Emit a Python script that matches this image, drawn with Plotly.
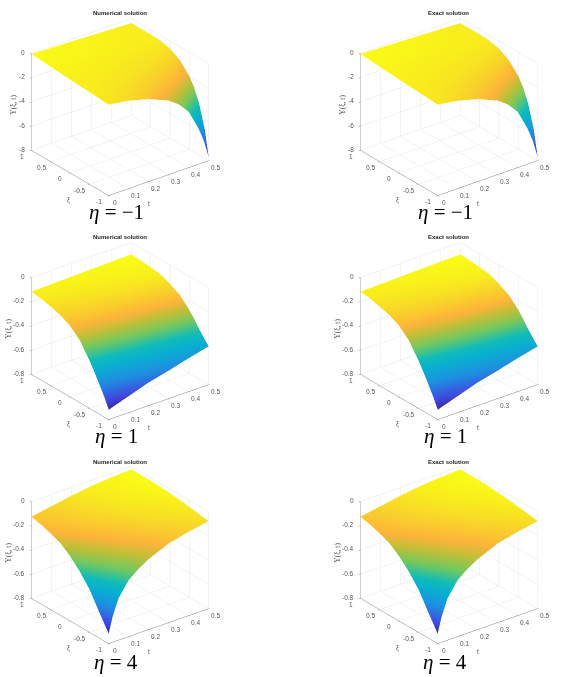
import plotly.graph_objects as go

xi_eta_m1 = [-1, -0.9, -0.75, -0.625, -0.5, -0.25, 0, 0.25, 0.5, 0.75, 1]
xi_eta_1 = [-1, -0.9, -0.75, -0.625, -0.5, -0.25, 0, 0.25, 0.5, 0.75, 1]
xi_eta_4 = [-1, -0.9, -0.75, -0.5, -0.25, 0, 0.25, 0.5, 0.75, 1]

# rows follow the xi list of each panel, columns its t list
t_eta_m1 = [0, 0.1, 0.2, 0.3, 0.35, 0.4, 0.45, 0.475, 0.5]
z_eta_m1 = [
    [-0.50, -0.76, -1.20, -1.90, -2.50, -3.40, -5.10, -6.20, -7.70],
    [-0.48, -0.70, -1.05, -1.60, -2.05, -2.75, -3.90, -4.60, -5.60],
    [-0.45, -0.62, -0.85, -1.25, -1.55, -1.95, -2.60, -3.10, -3.70],
    [-0.42, -0.55, -0.74, -1.02, -1.22, -1.50, -1.90, -2.20, -2.65],
    [-0.39, -0.49, -0.63, -0.82, -0.96, -1.15, -1.45, -1.67, -1.95],
    [-0.34, -0.41, -0.49, -0.58, -0.64, -0.72, -0.87, -0.96, -1.08],
    [-0.29, -0.34, -0.40, -0.45, -0.48, -0.52, -0.57, -0.595, -0.62],
    [-0.23, -0.27, -0.31, -0.35, -0.365, -0.38, -0.40, -0.41, -0.42],
    [-0.17, -0.20, -0.23, -0.27, -0.295, -0.32, -0.35, -0.365, -0.38],
    [-0.10, -0.15, -0.20, -0.25, -0.28, -0.31, -0.345, -0.36, -0.38],
    [-0.05, -0.11, -0.17, -0.24, -0.275, -0.31, -0.345, -0.36, -0.38],
]
t_eta_1 = [0, 0.1, 0.2, 0.3, 0.4, 0.5]
z_eta_1 = [
    [-0.720, -0.665, -0.610, -0.570, -0.525, -0.485],
    [-0.645, -0.599, -0.551, -0.513, -0.479, -0.445],
    [-0.550, -0.512, -0.472, -0.441, -0.413, -0.385],
    [-0.475, -0.440, -0.405, -0.378, -0.352, -0.328],
    [-0.405, -0.375, -0.344, -0.319, -0.297, -0.275],
    [-0.285, -0.265, -0.244, -0.228, -0.213, -0.198],
    [-0.212, -0.199, -0.185, -0.175, -0.165, -0.155],
    [-0.172, -0.160, -0.149, -0.139, -0.130, -0.122],
    [-0.148, -0.139, -0.130, -0.123, -0.116, -0.110],
    [-0.128, -0.122, -0.116, -0.112, -0.107, -0.103],
    [-0.118, -0.113, -0.109, -0.105, -0.101, -0.098],
]
t_eta_4 = [0, 0.02, 0.05, 0.1, 0.15, 0.2, 0.3, 0.4, 0.5]
z_eta_4 = [
    [-0.720, -0.590, -0.455, -0.335, -0.270, -0.220, -0.148, -0.109, -0.079],
    [-0.665, -0.550, -0.429, -0.319, -0.259, -0.211, -0.142, -0.104, -0.073],
    [-0.585, -0.489, -0.388, -0.294, -0.240, -0.196, -0.132, -0.096, -0.065],
    [-0.445, -0.380, -0.310, -0.241, -0.198, -0.162, -0.108, -0.079, -0.053],
    [-0.345, -0.300, -0.251, -0.200, -0.166, -0.136, -0.091, -0.066, -0.042],
    [-0.265, -0.235, -0.201, -0.164, -0.137, -0.112, -0.075, -0.054, -0.034],
    [-0.205, -0.185, -0.163, -0.134, -0.113, -0.093, -0.062, -0.044, -0.027],
    [-0.172, -0.158, -0.142, -0.119, -0.101, -0.083, -0.055, -0.039, -0.024],
    [-0.145, -0.136, -0.124, -0.106, -0.090, -0.074, -0.049, -0.035, -0.023],
    [-0.126, -0.120, -0.112, -0.097, -0.083, -0.068, -0.045, -0.032, -0.023],
]

eta_labels = ["\u03b7 = \u22121", "\u03b7 = 1", "\u03b7 = 4"]
col_titles = ["Numerical solution", "Exact solution"]
t_sets = [t_eta_m1, t_eta_1, t_eta_4]
xi_sets = [xi_eta_m1, xi_eta_1, xi_eta_4]
z_sets = [z_eta_m1, z_eta_1, z_eta_4]
z_ranges = [[-8, 0], [-0.8, 0], [-0.8, 0]]
z_ticks = [[-8, -6, -4, -2, 0], [-0.8, -0.6, -0.4, -0.2, 0], [-0.8, -0.6, -0.4, -0.2, 0]]
t_ticks = [0, 0.1, 0.2, 0.3, 0.4, 0.5]
xi_ticks = [-1, -0.5, 0, 0.5, 1]

parula = [
    [0.0, "#3b2a9a"], [0.1, "#4048e0"], [0.27, "#1f8fe0"], [0.42, "#08b0d0"],
    [0.5, "#10bcb8"], [0.62, "#72c860"], [0.72, "#c0bf38"], [0.8, "#fdb43a"],
    [0.9, "#f8d828"], [1.0, "#f9fb15"],
]

W, H = 561, 677
centers_x = [119.5, 448.5]
centers_y = [107, 331, 555]
dom_widths = [236, 224]
dom_h = 210
box = 1.204
tick_font = dict(family="Liberation Sans", size=6.5, color="#555555")
title_font = dict(family="Liberation Serif", size=7.5, color="#555555")


def scene_text(x, y, z, text, dx, dy, font=tick_font, **kw):
    return dict(x=x, y=y, z=z, text=text, showarrow=False, xshift=dx, yshift=dy, font=font, **kw)


fig = go.Figure()
for row, z in enumerate(z_sets):
    zlow, zhigh = z_ranges[row]
    labels = [scene_text(t, -1, zlow, str(t), 7, -7) for t in t_ticks]
    labels += [scene_text(0, xi, zlow, str(xi), -9, -6) for xi in xi_ticks]
    labels += [scene_text(0, 1, v, str(v), -4, 1, xanchor="right") for v in z_ticks[row]]
    labels.append(scene_text(0.25, -1, zlow, "t", -9, -25))
    labels.append(scene_text(0, 0, zlow, "\u03be", -1, -27))
    labels.append(scene_text(0, 1, (zlow + zhigh) / 2, "\u03a5(\u03be, t)", -17 if row == 0 else -22, -3,
                             font=title_font, textangle=-90))
    for col in range(2):
        name = "scene" if row * 2 + col == 0 else "scene%d" % (row * 2 + col + 1)
        fig.add_trace(go.Surface(
            x=t_sets[row], y=xi_sets[row], z=z, scene=name, colorscale=parula, showscale=False,
            lighting=dict(ambient=1, diffuse=0, specular=0, roughness=1, fresnel=0),
            hoverinfo="skip",
        ))
        cx, cy = centers_x[col], centers_y[row]
        dom_w = dom_widths[col]
        axis = dict(showbackground=False, gridcolor="#e6e6e6", gridwidth=1, showline=True,
                    linecolor="#808080", linewidth=1, zeroline=False, showspikes=False,
                    showticklabels=False, ticks="outside", ticklen=2, tickcolor="#808080",
                    title=dict(text=""))
        fig.update_layout({name: dict(
            domain=dict(x=[(cx - dom_w / 2) / W, (cx + dom_w / 2) / W],
                        y=[1 - (cy + dom_h / 2) / H, 1 - (cy - dom_h / 2) / H]),
            xaxis=dict(axis, range=[0, 0.5], tickvals=t_ticks),
            yaxis=dict(axis, range=[-1, 1], tickvals=xi_ticks),
            zaxis=dict(axis, range=z_ranges[row], tickvals=z_ticks[row]),
            aspectmode="manual", aspectratio=dict(x=box, y=box, z=0.86 * box),
            camera=dict(eye=dict(x=-0.546 * 1.9, y=-0.706 * 1.9, z=0.452 * 1.9),
                        center=dict(x=0, y=0, z=0), up=dict(x=0, y=0, z=1),
                        projection=dict(type="orthographic")),
            annotations=labels,
        )})
        fig.add_annotation(text="<b>%s</b>" % col_titles[col], x=cx / W, y=1 - ([13, 237, 462][row]) / H,
                           xref="paper", yref="paper", showarrow=False, xanchor="center", yanchor="middle",
                           font=dict(family="Liberation Sans", size=6, color="#262626"))
        fig.add_annotation(text="<i>%s</i>" % eta_labels[row][0] + eta_labels[row][1:],
                           x=(cx - 3.5) / W, y=1 - ([212, 436, 662][row]) / H,
                           xref="paper", yref="paper", showarrow=False, xanchor="center", yanchor="middle",
                           font=dict(family="Liberation Serif", size=21, color="#000000"))

fig.update_layout(width=W, height=H, autosize=False, margin=dict(l=0, r=0, t=0, b=0),
                  paper_bgcolor="white", showlegend=False)
fig.write_html("out.html", config=dict(displayModeBar=False),
               post_script="document.body.style.margin='0';")
